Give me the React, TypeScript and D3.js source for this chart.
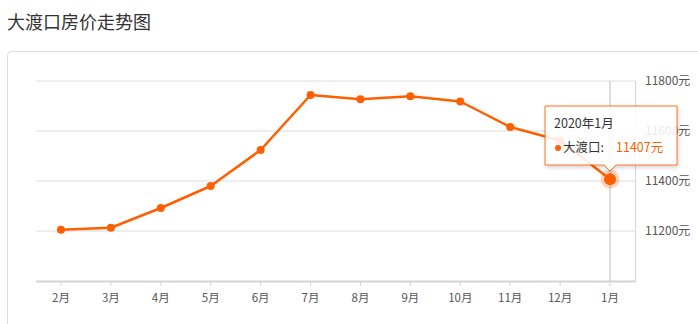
import React from "react";
import * as d3 from "d3";

const months = ["2月", "3月", "4月", "5月", "6月", "7月", "8月", "9月", "10月", "11月", "12月", "1月"];
const prices = [11205, 11213, 11292, 11380, 11524, 11744, 11727, 11739, 11718, 11616, 11562, 11407];
const yTicks = [11200, 11400, 11600, 11800];
const seriesName = "大渡口";
const tooltipTitle = "2020年1月";

const W = 698;
const H = 324;
const left = 36;
const right = 635;
const top = 81;
const bottom = 281;
const orange = "#ff5f00";

export default function App() {
  const x = d3.scaleBand<string>().domain(months).range([left, right]);
  const y = d3.scaleLinear().domain([11000, 11800]).range([bottom, top]);
  const cx = (m: string) => (x(m) as number) + x.bandwidth() / 2;
  const line = d3
    .line<number>()
    .x((_, i) => cx(months[i]))
    .y((d) => y(d));
  const lastI = prices.length - 1;
  const px = cx(months[lastI]);
  const py = y(prices[lastI]);
  const font = "'Microsoft YaHei', 'Noto Sans CJK SC', sans-serif";

  const tipL = px - 65;
  const tipR = px + 67;
  const tipT = 106;
  const tipB = 165;
  const tipPath = `M${tipL},${tipT} H${tipR} V${tipB} H${px + 6} L${px},${tipB + 6} L${px - 6},${tipB} H${tipL} Z`;

  return (
    <svg width={W} height={H} style={{ position: "absolute", left: 0, top: 0 }} fontFamily={font}>
      <defs>
        <filter id="sh" x="-20%" y="-20%" width="140%" height="150%">
          <feDropShadow dx="1" dy="2" stdDeviation="2" floodColor="#000" floodOpacity="0.2" />
        </filter>
      </defs>
      <rect width={W} height={H} fill="#fff" />
      <text x={7} y={29} fontSize={18} fill="#333">
        大渡口房价走势图
      </text>
      <rect x={7.5} y={51.5} width={760} height={340} rx={4} fill="#fff" stroke="#ddd" />
      {yTicks.map((t) => (
        <g key={t}>
          <line x1={left} x2={right} y1={y(t)} y2={y(t)} stroke="#dcdcdc" />
          <text x={645} y={y(t) + 4} fontSize={12} fill="#555">
            {t}元
          </text>
        </g>
      ))}
      <line x1={right + 0.5} x2={right + 0.5} y1={top} y2={bottom} stroke="#d4d4d4" />
      <line x1={left} x2={right + 1} y1={bottom + 0.5} y2={bottom + 0.5} stroke="#d4d4d4" strokeWidth={2} />
      {months.map((m) => (
        <g key={m}>
          <line x1={cx(m)} x2={cx(m)} y1={bottom + 1} y2={bottom + 5} stroke="#d4d4d4" />
          <text x={cx(m)} y={bottom + 21} fontSize={11.5} fill="#555" textAnchor="middle">
            {m}
          </text>
        </g>
      ))}
      <line x1={px} x2={px} y1={top} y2={bottom} stroke="#bbb" />
      <path d={line(prices) || ""} fill="none" stroke={orange} strokeWidth={2.5} strokeLinejoin="round" />
      {prices.map((p, i) =>
        i === lastI ? null : <circle key={i} cx={cx(months[i])} cy={y(p)} r={4} fill={orange} />
      )}
      <circle cx={px} cy={py} r={9.5} fill={orange} opacity={0.25} />
      <circle cx={px} cy={py} r={6} fill={orange} />
      <g opacity={0.88}>
        <path d={tipPath} fill="#fff" stroke={orange} strokeWidth={1} filter="url(#sh)" />
      </g>
      <text x={tipL + 9} y={128} fontSize={12.5} fill="#333">
        {tooltipTitle}
      </text>
      <circle cx={tipL + 13} cy={148} r={3} fill={orange} />
      <text x={tipL + 18} y={152} fontSize={12.5} fill="#333">
        {seriesName}:
      </text>
      <text x={tipL + 71} y={152} fontSize={12.5} fill={orange}>
        {prices[lastI]}元
      </text>
    </svg>
  );
}
